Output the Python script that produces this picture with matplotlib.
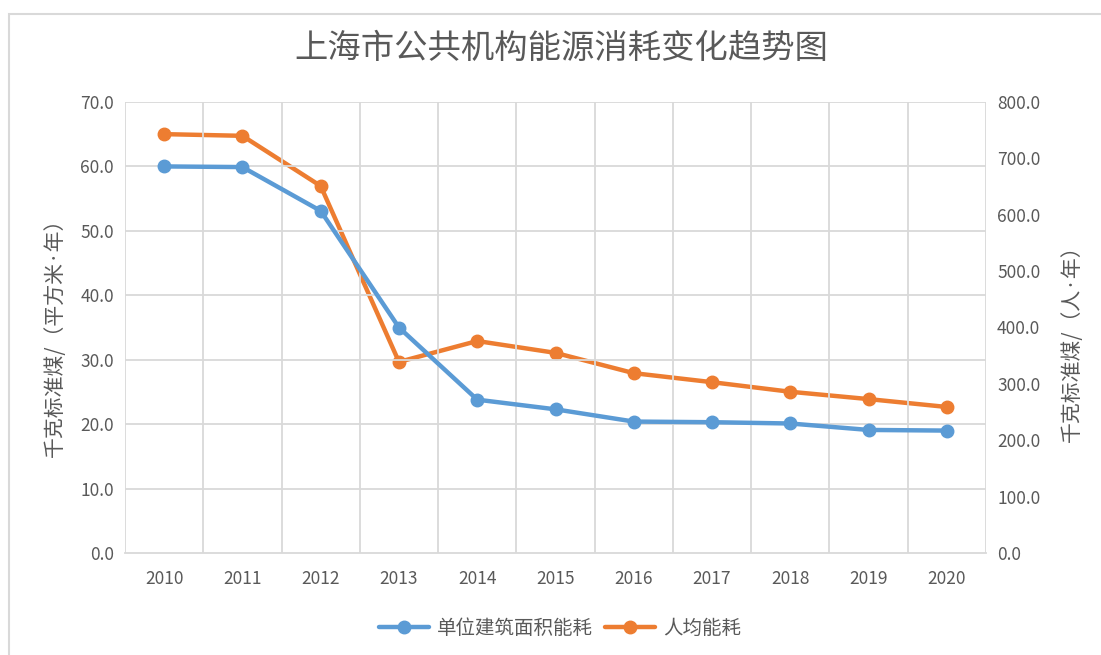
import matplotlib
matplotlib.use("Agg")
import matplotlib.pyplot as plt
from matplotlib.patches import Rectangle

plt.rcParams['font.family'] = ['Noto Sans CJK SC', 'DejaVu Sans']

years = ['2010', '2011', '2012', '2013', '2014', '2015', '2016', '2017', '2018', '2019', '2020']
per_area = [60.0, 59.9, 53.1, 35.0, 23.8, 22.3, 20.4, 20.3, 20.1, 19.1, 19.0]
per_capita = [743, 740, 651, 339, 376, 355, 319, 303, 286, 273, 259]

title = '上海市公共机构能源消耗变化趋势图'
left_label = '千克标准煤/（平方米·年）'
right_label = '千克标准煤/（人·年）'
name_area = '单位建筑面积能耗'
name_capita = '人均能耗'

blue = '#5B9BD5'
orange = '#ED7D31'
grid = '#D9D9D9'
text = '#595959'

fig = plt.figure(figsize=(11.01, 6.55), dpi=100)
ax = fig.add_axes([125/1101, 1-553/655, (986-125)/1101, (553-102)/655])
ax2 = ax.twinx()

x = list(range(len(years)))
l1, = ax.plot(x, per_area, color=blue, lw=3.2, marker='o', ms=9, solid_capstyle='round', zorder=3)
l2, = ax2.plot(x, per_capita, color=orange, lw=3.2, marker='o', ms=9, solid_capstyle='round', zorder=3)

ax.set_xlim(-0.5, len(years) - 0.5)
ax.set_ylim(0, 70)
ax2.set_ylim(0, 800)
ax.set_yticks(range(0, 71, 10))
ax.set_yticklabels([f'{v:.1f}' for v in range(0, 71, 10)])
ax2.set_yticks(range(0, 801, 100))
ax2.set_yticklabels([f'{v:.1f}' for v in range(0, 801, 100)])
ax.set_xticks(x)
ax.set_xticklabels(years)

# gridlines: horizontal at left ticks, vertical at category boundaries
for v in range(10, 71, 10):
    ax.axhline(v, color=grid, lw=1.3, zorder=0)
for b in range(len(years) + 1):
    ax.axvline(b - 0.5, color=grid, lw=1.3, zorder=0)

for a in (ax, ax2):
    for s in a.spines.values():
        s.set_visible(False)
    a.tick_params(length=0, labelsize=12.5, colors=text)
ax.spines['bottom'].set_visible(True)
ax.spines['bottom'].set_color(grid)
ax.spines['bottom'].set_linewidth(1.3)
ax.tick_params(axis='x', pad=12)
ax.tick_params(axis='y', pad=8)
ax2.tick_params(axis='y', pad=8)
ax.set_zorder(ax2.get_zorder() + 1)
ax.patch.set_visible(False)

label_fam = ['Noto Sans CJK JP', 'DejaVu Sans']
fig.text(55/1101, 1-332/655, left_label, rotation=90, ha='center', va='center', fontsize=15,
         color=text, family=label_fam)
fig.text(1072/1101, 1-338/655, right_label, rotation=90, ha='center', va='center', fontsize=15,
         color=text, family=label_fam)
fig.text(561/1101, 1-48/655, title, ha='center', va='center', fontsize=24, color=text)

fig.legend([l1, l2], [name_area, name_capita], loc='center', bbox_to_anchor=(560/1101, 1-628/655),
           ncol=2, frameon=False, fontsize=14, labelcolor=text, handlelength=2.6,
           columnspacing=0.6, handletextpad=0.4)

fig.patches.append(Rectangle((9/1101, -0.1), 1.2, 1-14/655 + 0.1, transform=fig.transFigure,
                             fill=False, edgecolor=grid, lw=1.5))

fig.savefig('out.png', dpi=100)
